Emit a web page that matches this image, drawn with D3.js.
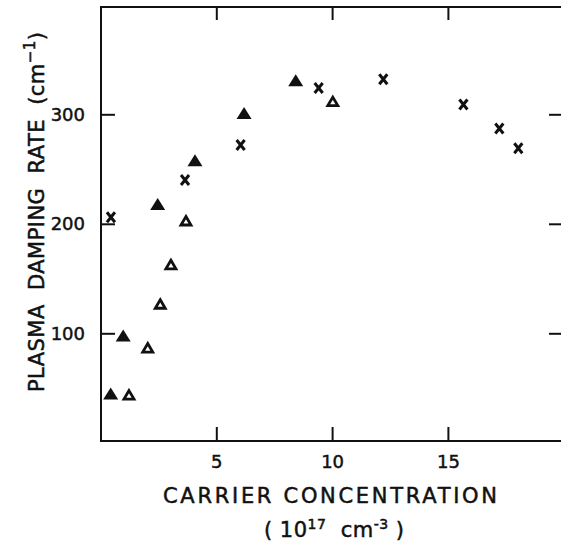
<!DOCTYPE html>
<html>
<head>
<meta charset="utf-8">
<script src="https://cdn.jsdelivr.net/npm/d3@7"></script>
<style>
    body { margin: 0; background: #fff; }
    svg { display: block; }
    text { font-family: "DejaVu Sans", sans-serif; fill: #111; white-space: pre; }
    .title { stroke: #111; stroke-width: 0.5px; }
</style>
</head>
<body>
<div id="chart"></div>
<script>
// carrier concentration (10^17 cm^-3) and damping rate (cm^-1)
const filledX = [0.44, 0.98, 2.47, 4.08, 6.20, 8.43];
const filledY = [44, 97, 217, 257, 300, 330];
const openX = [1.23, 2.04, 2.58, 3.04, 3.69, 10.03];
const openY = [43, 86, 126, 162, 202, 311];
const crossX = [0.45, 3.65, 6.05, 9.42, 12.21, 15.67, 17.22, 18.04];
const crossY = [206, 240, 272, 324, 332, 309, 287, 269];
const xTicks = [5, 10, 15];
const yTicks = [100, 200, 300];

const width = 561;
const height = 546;
const ink = "#111";

const svg = d3.select("#chart").append("svg")
    .attr("width", width)
    .attr("height", height);

const x = d3.scaleLinear().domain([0, 20]).range([100.5, 563.7]);
const y = d3.scaleLinear().domain([0, 400]).range([442.8, 4.8]);

const frameLeft = 101, frameRight = 563, frameTop = 7, frameBottom = 441;

// frame (right side runs off the page)
svg.append("path")
    .attr("d", `M${frameRight},${frameTop}H${frameLeft}V${frameBottom}H${frameRight}`)
    .attr("fill", "none")
    .attr("stroke", ink)
    .attr("stroke-width", 2);

function styleAxis(g) {
    g.select(".domain").remove();
    g.selectAll(".tick line").attr("stroke", ink).attr("stroke-width", 2);
    g.selectAll(".tick text")
        .attr("class", "title")
        .style("font-size", "18px")
        .attr("fill", ink);
}

svg.append("g")
    .attr("transform", `translate(0,${frameBottom})`)
    .call(d3.axisBottom(x).tickValues(xTicks).tickSize(-14).tickPadding(14))
    .call(styleAxis);

svg.append("g")
    .attr("transform", `translate(0,${frameTop})`)
    .call(d3.axisTop(x).tickValues(xTicks).tickSize(-13).tickFormat(""))
    .call(styleAxis);

svg.append("g")
    .attr("transform", `translate(${frameLeft},0)`)
    .call(d3.axisLeft(y).tickValues(yTicks).tickSize(-14).tickPadding(16))
    .call(styleAxis);

svg.append("g")
    .attr("transform", `translate(561,0)`)
    .call(d3.axisRight(y).tickValues(yTicks).tickSize(-12).tickFormat(""))
    .call(styleAxis);

// markers
function triPath(w, h) {
    return `M0,${-h * 0.6}L${w / 2},${h * 0.4}L${-w / 2},${h * 0.4}Z`;
}

svg.append("g").selectAll("path")
    .data(d3.zip(filledX, filledY))
    .join("path")
    .attr("transform", d => `translate(${x(d[0])},${y(d[1])})`)
    .attr("d", triPath(15, 12))
    .attr("fill", ink);

svg.append("g").selectAll("path")
    .data(d3.zip(openX, openY))
    .join("path")
    .attr("transform", d => `translate(${x(d[0])},${y(d[1])})`)
    .attr("d", triPath(10, 8.5))
    .attr("fill", "none")
    .attr("stroke", ink)
    .attr("stroke-width", 2.8)
    .attr("stroke-linejoin", "miter");

svg.append("g").selectAll("path")
    .data(d3.zip(crossX, crossY))
    .join("path")
    .attr("transform", d => `translate(${x(d[0])},${y(d[1])})`)
    .attr("d", "M-4,-5L4,5M4,-5L-4,5")
    .attr("fill", "none")
    .attr("stroke", ink)
    .attr("stroke-width", 3);

// x title
svg.append("text")
    .attr("class", "title")
    .attr("x", 330)
    .attr("y", 503)
    .attr("text-anchor", "middle")
    .attr("textLength", 334)
    .style("font-size", "21px")
    .text("CARRIER CONCENTRATION");

const sub = svg.append("text")
    .attr("class", "title")
    .attr("x", 334)
    .attr("y", 537)
    .attr("text-anchor", "middle")
    .attr("textLength", 140)
    .style("font-size", "21px");
sub.append("tspan").text("( 10");
sub.append("tspan").attr("dy", -8).style("font-size", "14px").text("17");
sub.append("tspan").attr("dy", 8).text("  cm");
sub.append("tspan").attr("dy", -8).style("font-size", "14px").text("-3");
sub.append("tspan").attr("dy", 8).text(" )");

// y title
const yt = svg.append("text")
    .attr("class", "title")
    .attr("transform", "translate(44,212) rotate(-90)")
    .attr("text-anchor", "middle")
    .attr("textLength", 360)
    .style("font-size", "21px");
yt.append("tspan").text("PLASMA  DAMPING  RATE  (cm");
yt.append("tspan").attr("dy", -9).style("font-size", "15px").text("−1");
yt.append("tspan").attr("dy", 9).text(")");
</script>
</body>
</html>
